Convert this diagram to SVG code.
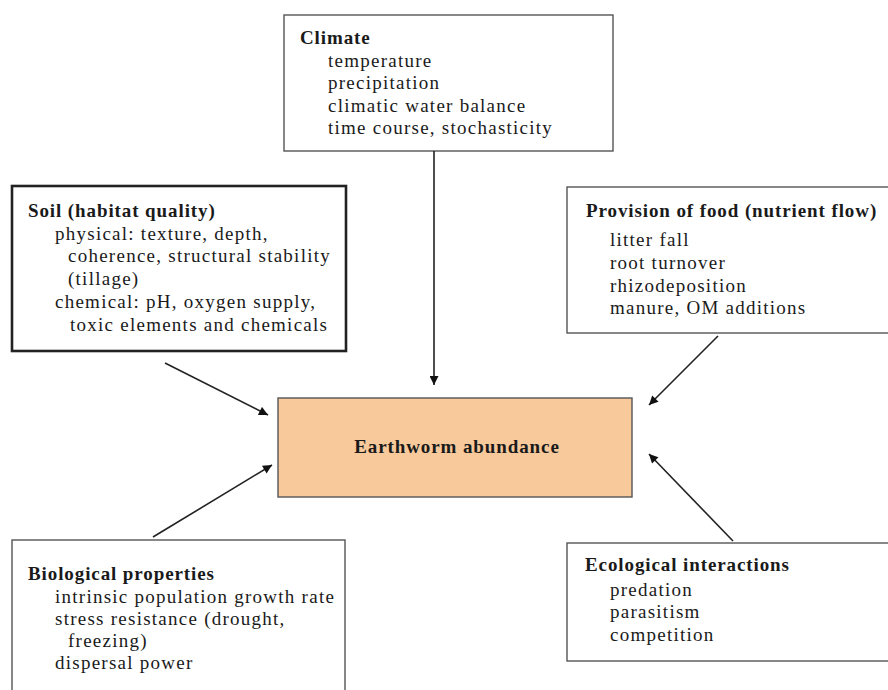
<svg xmlns="http://www.w3.org/2000/svg" width="888" height="690" viewBox="0 0 888 690">
<defs>
<style>
.box{fill:#fff;stroke:#555;stroke-width:1.4}
.thick{fill:#fff;stroke:#222;stroke-width:2.6}
.center{fill:#F8C99A;stroke:#555;stroke-width:1.4}
.t{font-family:"Liberation Serif","Times New Roman",serif;font-weight:bold;font-size:19px;letter-spacing:0.9px;fill:#1a1a1a}
.b{font-family:"Liberation Serif","Times New Roman",serif;font-size:19px;letter-spacing:1.25px;fill:#1a1a1a}
.c{stroke:#222;stroke-width:1.6;fill:none;marker-end:url(#ah)}
</style>
<marker id="ah" viewBox="0 0 10 10" refX="10" refY="5" markerWidth="10" markerHeight="9" markerUnits="userSpaceOnUse" orient="auto">
<path d="M0,0 L10,5 L0,10 z" fill="#111"/>
</marker>
</defs>
<rect width="888" height="690" fill="#fff"/>
<g id="climate">
<rect class="box" x="284" y="15" width="329" height="136"/>
<text class="t" x="300" y="44">Climate</text>
<text class="b" x="328" y="67">temperature</text>
<text class="b" x="328" y="89">precipitation</text>
<text class="b" x="328" y="112">climatic water balance</text>
<text class="b" x="328" y="134">time course, stochasticity</text>
</g>
<g id="soil">
<rect class="thick" x="12" y="186" width="334" height="165"/>
<text class="t" x="28" y="217">Soil (habitat quality)</text>
<text class="b" x="55" y="240">physical: texture, depth,</text>
<text class="b" x="68" y="262">coherence, structural stability</text>
<text class="b" x="68" y="285">(tillage)</text>
<text class="b" x="55" y="308">chemical: pH, oxygen supply,</text>
<text class="b" x="70" y="331">toxic elements and chemicals</text>
</g>
<g id="food">
<rect class="box" x="567" y="187" width="330" height="146"/>
<text class="t" x="586" y="217">Provision of food (nutrient flow)</text>
<text class="b" x="610" y="246">litter fall</text>
<text class="b" x="610" y="269">root turnover</text>
<text class="b" x="610" y="292">rhizodeposition</text>
<text class="b" x="610" y="314">manure, OM additions</text>
</g>
<g id="earthworm">
<rect class="center" x="278" y="398" width="354" height="99"/>
<text class="t" x="457" y="453" text-anchor="middle">Earthworm abundance</text>
</g>
<g id="biological">
<rect class="box" x="12" y="540" width="333" height="160"/>
<text class="t" x="28" y="580">Biological properties</text>
<text class="b" x="55" y="603">intrinsic population growth rate</text>
<text class="b" x="55" y="625">stress resistance (drought,</text>
<text class="b" x="68" y="647">freezing)</text>
<text class="b" x="55" y="669">dispersal power</text>
</g>
<g id="ecological">
<rect class="box" x="567" y="543" width="330" height="118"/>
<text class="t" x="585" y="571">Ecological interactions</text>
<text class="b" x="610" y="596">predation</text>
<text class="b" x="610" y="618">parasitism</text>
<text class="b" x="610" y="641">competition</text>
</g>
<g id="connectors">
<line class="c" x1="434" y1="151" x2="434" y2="385"/>
<line class="c" x1="165" y1="363" x2="268" y2="415"/>
<line class="c" x1="718" y1="336" x2="649" y2="405"/>
<line class="c" x1="153" y1="537" x2="272" y2="465"/>
<line class="c" x1="733" y1="541" x2="649" y2="454"/>
</g>
</svg>
